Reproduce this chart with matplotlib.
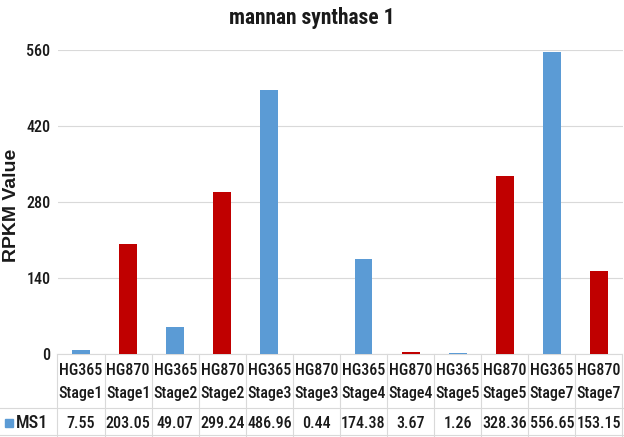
import matplotlib
matplotlib.use("Agg")
import matplotlib.pyplot as plt
import numpy as np
from matplotlib.transforms import blended_transform_factory

# ── Data ──────────────────────────────────────────────────────────────────
cultivars = ["HG365", "HG870"] * 6
stages = ["Stage1", "Stage1", "Stage2", "Stage2", "Stage3", "Stage3",
          "Stage4", "Stage4", "Stage5", "Stage5", "Stage7", "Stage7"]
ms1 = [7.55, 203.05, 49.07, 299.24, 486.96, 0.44,
       174.38, 3.67, 1.26, 328.36, 556.65, 153.15]
yticks = [0, 140, 280, 420, 560]

BLUE = "#5B9BD5"
RED = "#C00000"
GRID = "#D9D9D9"
TXT = "#1a1a1a"

plt.rcParams["font.family"] = ["Roboto Condensed", "DejaVu Sans"]
plt.rcParams["font.weight"] = "medium"

W, H = 624, 437
fig = plt.figure(figsize=(W / 100, H / 100), dpi=100)

left, right, top, bottom = 57.5, 622.5, 50, 354
ax = fig.add_axes([left / W, 1 - bottom / H, (right - left) / W, (bottom - top) / H])

x = np.arange(len(ms1))
colors = [BLUE if c == "HG365" else RED for c in cultivars]
ax.bar(x, ms1, width=0.38, color=colors, zorder=3)

ax.set_xlim(-0.5, len(ms1) - 0.5)
ax.set_ylim(0, 560)
ax.set_yticks(yticks)
ax.set_yticklabels([str(t) for t in yticks], fontsize=11.5, color=TXT)
ax.tick_params(axis="y", length=0, pad=5)
ax.set_xticks([])
ax.grid(axis="y", color=GRID, linewidth=0.8, zorder=0)
for s in ["top", "right", "left"]:
    ax.spines[s].set_visible(False)
ax.spines["bottom"].set_color(GRID)
ax.spines["bottom"].set_linewidth(0.8)

# axis title (Arial-like bold), placed by hand so it stays inside the figure
fig.text(11.5 / W, 1 - 205 / H, "RPKM Value", fontsize=14, fontweight="bold",
         family="Liberation Sans", rotation=90, ha="center", va="center",
         color=TXT)

fig.text(312 / W, 1 - 18 / H, "mannan synthase 1", fontsize=15.5,
         fontweight="bold", ha="center", va="center", color=TXT)

# ── Data table under the axis ─────────────────────────────────────────────
tr = blended_transform_factory(ax.transData, fig.transFigure)
def fy(py):
    return 1 - py / H

for i in range(len(ms1)):
    ax.text(i, fy(375), cultivars[i], transform=tr, ha="center",
            va="baseline", fontsize=11.5, color=TXT, clip_on=False)
    ax.text(i, fy(398), stages[i], transform=tr, ha="center",
            va="baseline", fontsize=11.5, color=TXT, clip_on=False)
    ax.text(i, fy(428), f"{ms1[i]:.2f}", transform=tr, ha="center",
            va="baseline", fontsize=11.5, color=TXT, clip_on=False)

# vertical separators
for i in range(len(ms1) + 1):
    fig.add_artist(plt.Line2D([ax.transData.transform((i - 0.5, 0))[0] / W] * 2,
                              [fy(bottom), fy(H)], color=GRID, linewidth=0.8))
# horizontal separators
for py in [408, 435]:
    fig.add_artist(plt.Line2D([0, right / W], [fy(py), fy(py)],
                              color=GRID, linewidth=0.8))

# legend key cell
fig.add_artist(plt.Rectangle((5 / W, fy(427)), 8 / W, 8 / H,
                             transform=fig.transFigure, color=BLUE))
fig.text(16 / W, fy(428), "MS1", fontsize=13, ha="left", va="baseline",
         color=TXT)

fig.savefig("out.png", dpi=100, facecolor="white")
